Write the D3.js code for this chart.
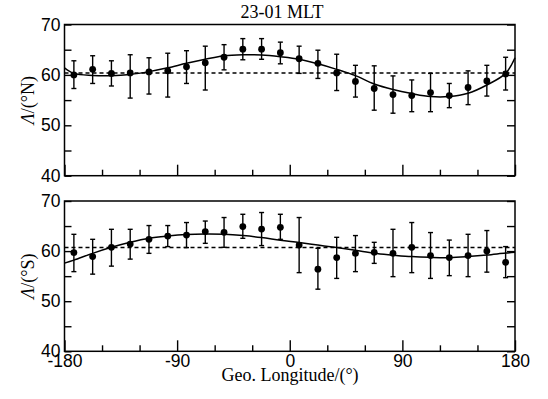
<!DOCTYPE html>
<html>
<head>
<meta charset="utf-8">
<script src="https://cdn.jsdelivr.net/npm/d3@7"></script>
<style>
  body { margin: 0; background: #fff; }
  svg { display: block; font-family: "Liberation Serif", "Times New Roman", serif; }
  .frame { fill: none; stroke: #000; stroke-width: 1.5; }
  .tick line { stroke: #000; stroke-width: 1.4; }
  .tick text { font-size: 17.5px; fill: #000; }
</style>
</head>
<body>
<svg width="548" height="399"></svg>
<script>
// longitudes of the binned points (deg)
const lon = [-172.5, -157.5, -142.5, -127.5, -112.5, -97.5, -82.5, -67.5, -52.5, -37.5, -22.5, -7.5,
             7.5, 22.5, 37.5, 52.5, 67.5, 82.5, 97.5, 112.5, 127.5, 142.5, 157.5, 172.5];

// northern hemisphere
const northMean = [60.0, 61.1, 60.3, 60.4, 60.6, 60.8, 61.6, 62.4, 63.5, 65.1, 65.1, 64.4,
                   63.2, 62.3, 60.4, 58.7, 57.3, 56.1, 55.9, 56.5, 55.9, 57.5, 58.8, 60.2];
const northHi = [62.8, 63.8, 62.8, 64.0, 63.4, 64.3, 64.8, 65.7, 66.0, 67.2, 67.2, 66.5,
                 65.7, 64.9, 64.1, 61.9, 61.8, 59.8, 59.0, 60.3, 58.3, 60.8, 61.9, 63.5];
const northLo = [57.3, 58.3, 57.8, 55.4, 56.2, 55.6, 58.3, 57.0, 61.0, 63.0, 63.1, 62.2,
                 60.3, 59.3, 56.9, 55.6, 53.0, 52.4, 52.7, 52.7, 53.5, 54.1, 55.8, 57.0];

// southern hemisphere
const southMean = [59.7, 58.9, 60.75, 61.4, 62.35, 63.0, 63.2, 63.9, 63.75, 64.9, 64.4, 64.75,
                   61.2, 56.4, 58.7, 59.55, 59.75, 59.55, 60.75, 59.1, 58.7, 59.1, 60.0, 57.75];
const southHi = [63.35, 62.35, 64.35, 64.35, 65.1, 65.1, 65.7, 66.0, 66.7, 67.35, 67.7, 67.35,
                 66.7, 60.55, 62.75, 63.1, 61.75, 64.35, 65.7, 63.7, 62.2, 63.35, 64.1, 60.9];
const southLo = [55.9, 55.4, 57.0, 58.4, 59.55, 60.9, 60.7, 61.55, 60.75, 62.55, 61.1, 62.35,
                 55.7, 52.4, 54.55, 55.9, 57.55, 54.9, 55.7, 54.55, 55.1, 54.9, 55.8, 54.7];

// fitted curves
const fitLon = [-180, -172.5, -157.5, -142.5, -127.5, -112.5, -97.5, -82.5, -67.5, -52.5, -37.5, -22.5, -7.5,
                7.5, 22.5, 37.5, 52.5, 67.5, 82.5, 97.5, 112.5, 127.5, 142.5, 157.5, 172.5, 180];
const northFit = [61.4, 60.3, 59.9, 59.85, 60.1, 60.65, 61.4, 62.3, 63.1, 63.8, 64.0, 63.95, 63.6,
                  63.1, 62.2, 61.1, 59.85, 58.2, 57.1, 56.3, 55.7, 55.7, 56.35, 58.0, 60.3, 63.4];
const southFit = [57.6, 58.2, 59.55, 60.75, 61.75, 62.55, 63.0, 63.3, 63.4, 63.35, 63.1, 62.7, 62.15,
                  61.7, 61.2, 60.7, 60.15, 59.55, 59.2, 58.9, 58.75, 58.7, 58.9, 59.2, 59.6, 59.75];

// mean levels (dashed)
const northAvg = 60.4;
const southAvg = 60.7;

const yTicks = [40, 45, 50, 55, 60, 65, 70];
const xMajor = [-180, -90, 0, 90, 180];
const xMinor = [-150, -120, -60, -30, 30, 60, 120, 150];

const left = 64.5, right = 515;
const svg = d3.select('svg');

const x = d3.scaleLinear().domain([-180, 180]).range([left, right]);

function drawPanel(top, bottom, mean, hi, lo, fit, avg, hemi, showX) {
  const y = d3.scaleLinear().domain([40, 70]).range([bottom, top]);
  const g = svg.append('g');

  // ticks, pointing inward
  g.append('g')
    .attr('transform', `translate(0,${bottom})`)
    .call(d3.axisBottom(x).tickValues(xMinor).tickSize(-6).tickFormat(''))
    .call(a => a.select('.domain').remove());
  g.append('g')
    .attr('transform', `translate(0,${bottom})`)
    .call(d3.axisBottom(x).tickValues(xMajor).tickSize(-11).tickPadding(3)
      .tickFormat(d => showX ? d : ''))
    .call(a => a.select('.domain').remove());
  g.append('g')
    .attr('transform', `translate(${left},0)`)
    .call(d3.axisLeft(y).tickValues(yTicks).tickSize(-7).tickPadding(4)
      .tickFormat(d => d % 10 === 0 ? d : ''))
    .call(a => a.select('.domain').remove());
  g.append('g')
    .attr('transform', `translate(${right},0)`)
    .call(d3.axisRight(y).tickValues(yTicks).tickSize(-8).tickFormat(''))
    .call(a => a.select('.domain').remove());

  g.append('rect').attr('class', 'frame')
    .attr('x', left).attr('y', top)
    .attr('width', right - left).attr('height', bottom - top);

  // mean level
  g.append('line')
    .attr('x1', left).attr('x2', right)
    .attr('y1', y(avg)).attr('y2', y(avg))
    .attr('stroke', '#000').attr('stroke-width', 1.5)
    .attr('stroke-dasharray', '4,3');

  // fit
  const line = d3.line().curve(d3.curveCatmullRom)
    .x((d, i) => x(fitLon[i])).y(d => y(d));
  g.append('path').datum(fit)
    .attr('d', line)
    .attr('fill', 'none').attr('stroke', '#000').attr('stroke-width', 1.5);

  // error bars
  const bars = g.append('g').attr('stroke', '#000').attr('stroke-width', 1.4);
  bars.selectAll('.eb')
    .data(lon)
    .join('line')
      .attr('x1', d => x(d)).attr('x2', d => x(d))
      .attr('y1', (d, i) => y(hi[i])).attr('y2', (d, i) => y(lo[i]));
  bars.selectAll('.cap-hi')
    .data(lon)
    .join('line')
      .attr('x1', d => x(d) - 2.5).attr('x2', d => x(d) + 2.5)
      .attr('y1', (d, i) => y(hi[i])).attr('y2', (d, i) => y(hi[i]));
  bars.selectAll('.cap-lo')
    .data(lon)
    .join('line')
      .attr('x1', d => x(d) - 2.5).attr('x2', d => x(d) + 2.5)
      .attr('y1', (d, i) => y(lo[i])).attr('y2', (d, i) => y(lo[i]));

  // points
  g.selectAll('.pt')
    .data(lon)
    .join('circle')
      .attr('cx', d => x(d)).attr('cy', (d, i) => y(mean[i]))
      .attr('r', 3.4).attr('fill', '#000');

  // y label
  const lab = g.append('text')
    .attr('transform', `translate(34,${(top + bottom) / 2}) rotate(-90)`)
    .attr('text-anchor', 'middle').attr('font-size', 18);
  lab.append('tspan').attr('font-style', 'italic').text('Λ');
  lab.append('tspan').text('/(°' + hemi + ')');
}

drawPanel(24.5, 175.7, northMean, northHi, northLo, northFit, northAvg, 'N', false);
drawPanel(201, 351.3, southMean, southHi, southLo, southFit, southAvg, 'S', true);

svg.append('text')
  .attr('x', 282).attr('y', 18)
  .attr('text-anchor', 'middle').attr('font-size', 18)
  .text('23-01 MLT');

svg.append('text')
  .attr('x', 290).attr('y', 381)
  .attr('text-anchor', 'middle').attr('font-size', 18)
  .text('Geo. Longitude/(°)');
</script>
</body>
</html>
